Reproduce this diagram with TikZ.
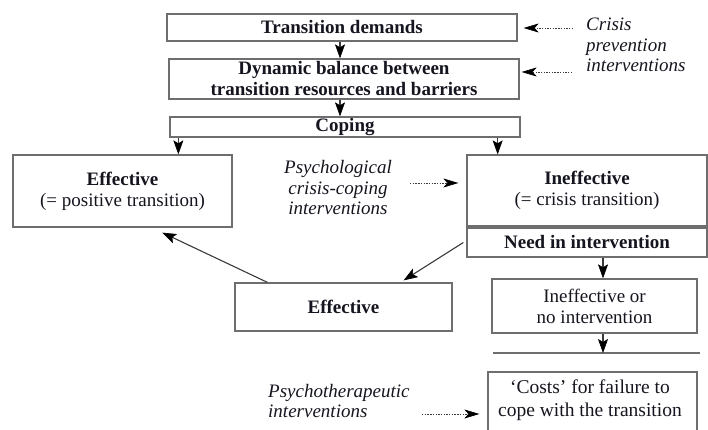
\documentclass[tikz,border=0pt]{standalone}
\usepackage{fontspec}
\setmainfont{Liberation Serif}
\usetikzlibrary{arrows.meta}
\definecolor{ink}{HTML}{15151F}
\definecolor{frame}{HTML}{6E6E6E}
\definecolor{wire}{HTML}{3A3A3A}
\begin{document}
\begin{tikzpicture}[x=1pt,y=-1pt,
  every node/.style={text=ink, font=\fontsize{19}{21}\selectfont},
  box/.style={draw=frame, line width=1.3pt, fill=white, align=center, inner sep=0pt},
  boldbox/.style={box, font=\fontsize{19}{21}\selectfont\bfseries},
  note/.style={font=\fontsize{19}{20.5}\selectfont\itshape, text=ink, inner sep=0pt},
  tip/.style={-{Stealth[length=14pt,width=10pt,inset=3pt,color=black,fill=black,line width=0.6pt]}},
  flow/.style={draw=wire, line width=1.1pt, tip},
  hint/.style={draw=wire, line width=0.9pt, dash pattern=on 1.4pt off 1.3pt,
    -{Stealth[length=15pt,width=9pt,inset=4pt,color=black,fill=black,line width=0.6pt]}}]
\useasboundingbox (0,0) rectangle (708,430);
\clip (0,0) rectangle (708,430);

% upper chain
\node[boldbox, minimum width=350pt, minimum height=27pt] (td) at (342,27.5) {Transition demands};
\node[boldbox, minimum width=350pt, minimum height=40pt] (db) at (344,79)
  {Dynamic balance between\\transition resources and barriers};
\node[boldbox, minimum width=350pt, minimum height=20pt] (cop) at (345,127) {Coping};

% outcomes of coping
\node[box, minimum width=219pt, minimum height=72pt] (eff) at (122.5,191)
  {\textbf{Effective}\\(= positive transition)};
\node[box, minimum width=240pt, minimum height=71pt] (ineff) at (587,190.5)
  {\textbf{Ineffective}\\(= crisis transition)};
\node[boldbox, minimum width=240pt, minimum height=29pt] (need) at (587,242.5) {Need in intervention};

% outcomes of intervention
\node[boldbox, minimum width=217pt, minimum height=48pt] (eff2) at (343.5,307) {Effective};
\node[box, minimum width=205pt, minimum height=54pt] (ino) at (594.5,306)
  {Ineffective or\\no intervention};
\node[box, minimum width=209pt, minimum height=68pt] (costs) at (592.5,406) {};
\node[align=center, inner sep=0pt, font=\fontsize{19.5}{23}\selectfont] (costslbl) at (590,400)
  {‘Costs’ for failure to\\cope with the transition};

% separating rule below the intervention outcome
\coordinate (ruleA) at (493,353);
\coordinate (ruleB) at (700,353);
\draw[draw=frame, line width=1.2pt] (ruleA) -- (ruleB);

% intervention labels
\node[note, align=left, anchor=north west] (crisis) at (586,18)
  {Crisis\\prevention\\interventions};
\node[note, align=center] (psych) at (338,188)
  {Psychological\\crisis-coping\\interventions};
\node[note, align=left, anchor=west] (ptx) at (268,401)
  {Psychotherapeutic\\interventions};

% main flow
\draw[flow] (td.south -| 340,0) -- (db.north -| 340,0);
\draw[flow] (db.south -| 340,0) -- (cop.north -| 340,0);
\draw[flow] ([xshift=9pt]cop.south west) -- ([xshift=9pt]cop.south west |- eff.north);
\draw[flow] ([xshift=-23pt]cop.south east) -- ([xshift=-23pt]cop.south east |- ineff.north);
\draw[flow] ([xshift=16pt]need.south) -- ([xshift=16pt]need.south |- ino.north);
\draw[flow] ([xshift=8.5pt]ino.south) -- ([xshift=8.5pt]ino.south |- ruleA);
\draw[flow] ([xshift=-3pt]need.west) -- ([xshift=-49pt,yshift=2pt]eff2.north east);
\draw[flow] ([xshift=33pt]eff2.north west) -- ([xshift=150pt,yshift=-5pt]eff.south west);

% intervention hints
\coordinate (c1) at (573,28);
\coordinate (c2) at (572,72);
\coordinate (p1) at (410,183);
\coordinate (t1) at (422,414);
\draw[hint] (c1) -- ([xshift=6pt]td.east |- c1);
\draw[hint] (c2) -- ([xshift=2pt]db.east |- c2);
\draw[hint] (p1) -- ([xshift=-8pt]ineff.west |- p1);
\draw[hint] (t1) -- ([xshift=-8pt]costs.west |- t1);
\end{tikzpicture}
\end{document}
